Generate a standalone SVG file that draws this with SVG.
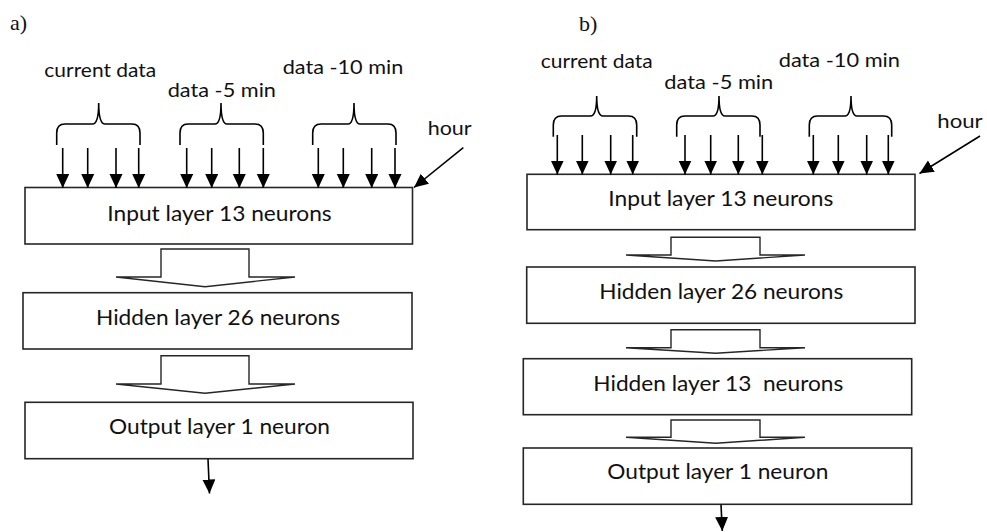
<svg xmlns="http://www.w3.org/2000/svg" width="987" height="532" viewBox="0 0 987 532">
  <style>
    .box { fill: #ffffff; stroke: #262626; stroke-width: 1.6; }
    .lbl { font-family: Lato, "Open Sans", "Liberation Sans", sans-serif; font-size: 22px; fill: #111111; }
    .sm { font-family: Lato, "Open Sans", "Liberation Sans", sans-serif; font-size: 20px; fill: #111111; }
    .tag { font-family: "Liberation Serif", "Times New Roman", serif; font-size: 22px; fill: #111111; }
    .ln { fill: none; stroke: #000000; stroke-width: 1.6; }
    .brace { fill: none; stroke: #000000; stroke-width: 1.6; }
    .flow { fill: #ffffff; stroke: #262626; stroke-width: 1.4; stroke-linejoin: miter; }
  </style>
  <defs>
    <marker id="head" markerUnits="userSpaceOnUse" markerWidth="15" markerHeight="14" refX="14" refY="6.5" orient="auto">
      <path d="M0,0 L14,6.5 L0,13 z" fill="#000000"/>
    </marker>
  </defs>

  <!-- panel a -->
  <text class="tag" x="10" y="30">a)</text>
  <text class="sm" x="44.3" y="77" textLength="112" lengthAdjust="spacingAndGlyphs">current data</text>
  <text class="sm" x="167.7" y="96.7" textLength="108.3" lengthAdjust="spacingAndGlyphs">data -5 min</text>
  <text class="sm" x="282.7" y="74" textLength="120.6" lengthAdjust="spacingAndGlyphs">data -10 min</text>
  <text class="sm" x="427.7" y="135" textLength="44" lengthAdjust="spacingAndGlyphs">hour</text>

  <g id="braces-a">
    <path class="brace" d="M56.7,145 L56.7,133 Q56.7,124 65,124 L92.5,124 Q98.7,124 98.7,103 Q98.7,124 105,124 L132,124 Q140,124 140,133 L140,145"/>
    <path class="brace" d="M180,145 L180,133 Q180,124 188,124 L215,124 Q221,124 221,103 Q221,124 227,124 L255,124 Q263.3,124 263.3,133 L263.3,145"/>
    <path class="brace" d="M312.7,145 L312.7,133 Q312.7,124 321,124 L348,124 Q354,124 354,103 Q354,124 360,124 L388,124 Q396,124 396,133 L396,145"/>
  </g>

  <g id="input-a">
    <rect class="box" x="25" y="187.5" width="387.5" height="56.5"/>
    <text class="lbl" x="107.3" y="220.7" textLength="224.4" lengthAdjust="spacingAndGlyphs">Input layer 13 neurons</text>
  </g>
  <g id="hidden-a">
    <rect class="box" x="23" y="292.7" width="389" height="56.3"/>
    <text class="lbl" x="96" y="325" textLength="244" lengthAdjust="spacingAndGlyphs">Hidden layer 26 neurons</text>
  </g>
  <g id="output-a">
    <rect class="box" x="25" y="402.3" width="388" height="56.4"/>
    <text class="lbl" x="109" y="434" textLength="221" lengthAdjust="spacingAndGlyphs">Output layer 1 neuron</text>
  </g>

  <!-- panel b -->
  <text class="tag" x="579" y="31">b)</text>
  <text class="sm" x="540.7" y="68.3" textLength="112" lengthAdjust="spacingAndGlyphs">current data</text>
  <text class="sm" x="664.3" y="89.3" textLength="109" lengthAdjust="spacingAndGlyphs">data -5 min</text>
  <text class="sm" x="778.7" y="66.7" textLength="121.3" lengthAdjust="spacingAndGlyphs">data -10 min</text>
  <text class="sm" x="937.3" y="128.3" textLength="45.4" lengthAdjust="spacingAndGlyphs">hour</text>

  <g id="braces-b">
    <path class="brace" d="M553.3,136.7 L553.3,125 Q553.3,116 561.5,116 L590.5,116 Q596.7,116 596.7,96 Q596.7,116 603,116 L628.5,116 Q636.7,116 636.7,125 L636.7,136.7"/>
    <path class="brace" d="M676.7,136.7 L676.7,125 Q676.7,116 685,116 L713,116 Q719,116 719,96 Q719,116 725,116 L752,116 Q760,116 760,125 L760,136.7"/>
    <path class="brace" d="M809.3,136.7 L809.3,125 Q809.3,116 817.5,116 L845,116 Q851,116 851,96 Q851,116 857,116 L883.5,116 Q891.7,116 891.7,125 L891.7,136.7"/>
  </g>

  <g id="input-b">
    <rect class="box" x="527" y="174.3" width="388" height="55.4"/>
    <text class="lbl" x="608.3" y="205.7" textLength="225" lengthAdjust="spacingAndGlyphs">Input layer 13 neurons</text>
  </g>
  <g id="hidden26-b">
    <rect class="box" x="526.7" y="267" width="388.3" height="56.3"/>
    <text class="lbl" x="599.3" y="299" textLength="244" lengthAdjust="spacingAndGlyphs">Hidden layer 26 neurons</text>
  </g>
  <g id="hidden13-b">
    <rect class="box" x="523.3" y="358.7" width="388.4" height="56"/>
    <text class="lbl" x="593.3" y="390.7" textLength="250" lengthAdjust="spacingAndGlyphs" xml:space="preserve">Hidden layer 13  neurons</text>
  </g>
  <g id="output-b">
    <rect class="box" x="523.3" y="448" width="388.4" height="56.3"/>
    <text class="lbl" x="607.3" y="479" textLength="221" lengthAdjust="spacingAndGlyphs">Output layer 1 neuron</text>
  </g>

  <!-- connectors -->
  <g id="connectors">
    <!-- inputs, panel a -->
    <line class="ln" x1="62.7" y1="148" x2="62.7" y2="188" marker-end="url(#head)"/>
    <line class="ln" x1="87.7" y1="148" x2="87.7" y2="188" marker-end="url(#head)"/>
    <line class="ln" x1="116" y1="148" x2="116" y2="188" marker-end="url(#head)"/>
    <line class="ln" x1="138.7" y1="148" x2="138.7" y2="188" marker-end="url(#head)"/>
    <line class="ln" x1="186.7" y1="148" x2="186.7" y2="188" marker-end="url(#head)"/>
    <line class="ln" x1="211.7" y1="148" x2="211.7" y2="188" marker-end="url(#head)"/>
    <line class="ln" x1="239.3" y1="148" x2="239.3" y2="188" marker-end="url(#head)"/>
    <line class="ln" x1="263.3" y1="148" x2="263.3" y2="188" marker-end="url(#head)"/>
    <line class="ln" x1="318.3" y1="148" x2="318.3" y2="188" marker-end="url(#head)"/>
    <line class="ln" x1="343.3" y1="148" x2="343.3" y2="188" marker-end="url(#head)"/>
    <line class="ln" x1="371.7" y1="148" x2="371.7" y2="188" marker-end="url(#head)"/>
    <line class="ln" x1="395" y1="148" x2="395" y2="188" marker-end="url(#head)"/>
    <line class="ln" x1="463.3" y1="147.7" x2="414" y2="187.5" marker-end="url(#head)"/>

    <!-- layer-to-layer, panel a -->
    <polygon class="flow" points="161,249 249,249 249,277 295,277 205,286.7 116,277 161,277"/>
    <polygon class="flow" points="161,355.7 249,355.7 249,384 295,384 205,393.3 116,384 161,384"/>
    <line class="ln" x1="208" y1="459" x2="209.5" y2="493.5" marker-end="url(#head)"/>

    <!-- inputs, panel b -->
    <line class="ln" x1="557.3" y1="135" x2="557.3" y2="174.5" marker-end="url(#head)"/>
    <line class="ln" x1="582.3" y1="135" x2="582.3" y2="174.5" marker-end="url(#head)"/>
    <line class="ln" x1="610.7" y1="135" x2="610.7" y2="174.5" marker-end="url(#head)"/>
    <line class="ln" x1="632.7" y1="135" x2="632.7" y2="174.5" marker-end="url(#head)"/>
    <line class="ln" x1="685" y1="135" x2="685" y2="174.5" marker-end="url(#head)"/>
    <line class="ln" x1="710.7" y1="135" x2="710.7" y2="174.5" marker-end="url(#head)"/>
    <line class="ln" x1="738.3" y1="135" x2="738.3" y2="174.5" marker-end="url(#head)"/>
    <line class="ln" x1="762.3" y1="135" x2="762.3" y2="174.5" marker-end="url(#head)"/>
    <line class="ln" x1="813.3" y1="135" x2="813.3" y2="174.5" marker-end="url(#head)"/>
    <line class="ln" x1="838.3" y1="135" x2="838.3" y2="174.5" marker-end="url(#head)"/>
    <line class="ln" x1="866.7" y1="135" x2="866.7" y2="174.5" marker-end="url(#head)"/>
    <line class="ln" x1="888.3" y1="135" x2="888.3" y2="174.5" marker-end="url(#head)"/>
    <line class="ln" x1="980" y1="136" x2="919.5" y2="173.5" marker-end="url(#head)"/>

    <!-- layer-to-layer, panel b -->
    <polygon class="flow" points="671,237.3 760,237.3 760,255 805,255 715.7,261 626,255 671,255"/>
    <polygon class="flow" points="671,329.7 760,329.7 760,347.7 805,347.7 715.7,353.3 626,347.7 671,347.7"/>
    <polygon class="flow" points="671,420 760,420 760,437.3 805,437.3 715.7,443.3 626,437.3 671,437.3"/>
    <line class="ln" x1="721" y1="504.5" x2="722.3" y2="531" marker-end="url(#head)"/>
  </g>
</svg>
